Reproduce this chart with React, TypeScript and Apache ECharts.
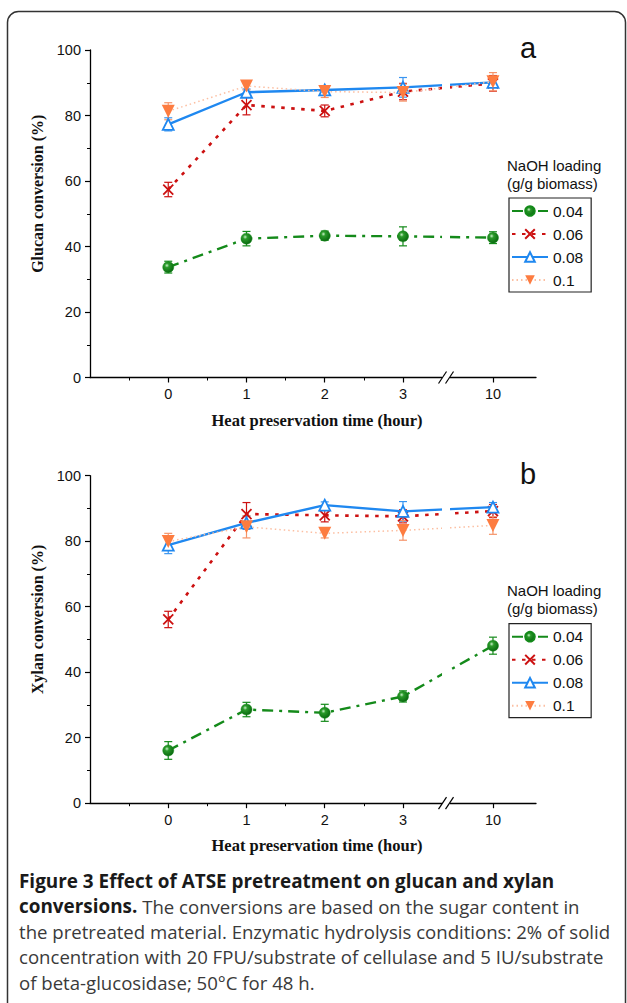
import React, { useEffect, useRef } from "react";
import * as echarts from "echarts";

// ---- data ----
const hourLabels = ["0", "1", "2", "3", "10"];
// position of each time point on the broken axis (the 3 → 10 span is compressed)
const hourPositions = [0, 1, 2, 3, 4.15];
const breakPosition = 3.55;
const minorTickPositions = [-0.5, 0.5, 1.5, 2.5];
const seriesNames = ["0.04", "0.06", "0.08", "0.1"];

const glucan004 = [33.7, 42.4, 43.3, 43.1, 42.7];
const glucan004Err = [1.8, 2.2, 1.4, 2.9, 1.8];
const glucan006 = [57.4, 83.2, 81.4, 87.3, 89.8];
const glucan006Err = [2.2, 3.0, 1.8, 2.5, 2.4];
const glucan008 = [77.3, 87.1, 87.8, 88.6, 90.1];
const glucan008Err = [2.0, 1.0, 1.2, 3.0, 1.5];
const glucan01 = [81.3, 89.0, 87.3, 87.0, 90.3];
const glucan01Err = [2.6, 1.2, 1.8, 2.6, 2.8];

const xylan004 = [16.1, 28.6, 27.6, 32.6, 48.1];
const xylan004Err = [2.7, 2.2, 2.6, 1.7, 2.6];
const xylan006 = [56.1, 88.3, 87.9, 87.6, 89.2];
const xylan006Err = [2.5, 3.5, 2.0, 2.0, 2.0];
const xylan008 = [78.8, 85.6, 91.0, 89.1, 90.4];
const xylan008Err = [2.6, 2.0, 1.0, 3.0, 1.4];
const xylan01 = [79.9, 84.4, 82.4, 83.3, 84.8];
const xylan01Err = [2.5, 3.4, 1.4, 3.0, 2.7];

const yTicks = [0, 20, 40, 60, 80, 100];

// ---- styles ----
const GREEN = "#148a1a";
const RED = "#cc1111";
const BLUE = "#1f88f0";
const ORANGE = "#fd7c40";
const ORANGE_LINE = "#fcbfa2";

const sans = "'Liberation Sans', Arial, sans-serif";
const serif = "'Liberation Serif', 'Times New Roman', serif";
const captionFont = "'Open Sans', Lato, sans-serif";

type SeriesDef = {
  name: string;
  color: string;
  lineColor: string;
  errColor: string;
  lineType: any;
  lineWidth: number;
  symbol: string;
  symbolSize: number;
  itemStyle: any;
};

const greenBall = new echarts.graphic.RadialGradient(0.38, 0.35, 0.65, [
  { offset: 0, color: "#c9f0c9" },
  { offset: 0.3, color: "#2a9a2a" },
  { offset: 1, color: "#0a6a10" },
]);

const defs: SeriesDef[] = [
  {
    name: seriesNames[0],
    color: GREEN,
    lineColor: GREEN,
    errColor: GREEN,
    lineType: [11, 6, 3, 6],
    lineWidth: 2.4,
    symbol: "circle",
    symbolSize: 11,
    itemStyle: { color: greenBall, borderColor: GREEN, borderWidth: 0.5 },
  },
  {
    name: seriesNames[1],
    color: RED,
    lineColor: RED,
    errColor: RED,
    lineType: [3.5, 6.5],
    lineWidth: 2.6,
    symbol: "path://M0,0L10,10M10,0L0,10",
    symbolSize: 10,
    itemStyle: { color: RED, borderColor: RED, borderWidth: 1.8 },
  },
  {
    name: seriesNames[2],
    color: BLUE,
    lineColor: BLUE,
    errColor: "#3a95f0",
    lineType: "solid",
    lineWidth: 2.4,
    symbol: "triangle",
    symbolSize: 11,
    itemStyle: { color: "#ffffff", borderColor: BLUE, borderWidth: 1.8 },
  },
  {
    name: seriesNames[3],
    color: ORANGE,
    lineColor: ORANGE_LINE,
    errColor: "#f5946a",
    lineType: [1.5, 3],
    lineWidth: 1.5,
    symbol: "path://M0,0L10,0L5,9Z",
    symbolSize: 13,
    itemStyle: { color: ORANGE, borderColor: ORANGE, borderWidth: 0 },
  },
];

function buildSeries(
  axisIdx: number,
  values: number[][],
  errors: number[][]
): any[] {
  const out: any[] = [];
  defs.forEach((d, k) => {
    out.push({
      type: "custom",
      name: "err-" + d.name,
      xAxisIndex: axisIdx * 2,
      yAxisIndex: axisIdx,
      silent: true,
      z: 1,
      data: hourPositions.map((x, i) => [x, values[k][i], errors[k][i]]),
      encode: { x: 0, y: 1 },
      renderItem: (params: any, api: any) => {
        const x = api.value(0);
        const y = api.value(1);
        const e = api.value(2);
        const hi = api.coord([x, y + e]);
        const lo = api.coord([x, y - e]);
        const w = 4;
        const style = { stroke: d.errColor, lineWidth: 1.2 };
        return {
          type: "group",
          children: [
            { type: "line", shape: { x1: hi[0], y1: hi[1], x2: lo[0], y2: lo[1] }, style },
            { type: "line", shape: { x1: hi[0] - w, y1: hi[1], x2: hi[0] + w, y2: hi[1] }, style },
            { type: "line", shape: { x1: lo[0] - w, y1: lo[1], x2: lo[0] + w, y2: lo[1] }, style },
          ],
        };
      },
    });
  });
  defs.forEach((d, k) => {
    out.push({
      type: "line",
      name: d.name,
      xAxisIndex: axisIdx * 2,
      yAxisIndex: axisIdx,
      z: 2 + k,
      data: hourPositions.map((x, i) => [x, values[k][i]]),
      symbol: d.symbol,
      symbolSize: d.symbolSize,
      showAllSymbol: true,
      lineStyle: { color: d.lineColor, width: d.lineWidth, type: d.lineType },
      itemStyle: d.itemStyle,
      color: d.color,
    });
  });
  return out;
}

const gridTops = [50, 475.7];
const gridHeight = 327.5;
const gridLeft = 90;
const gridWidth = 446;
const yNames = ["Glucan conversion (%)", "Xylan conversion (%)"];
const panelLetters = ["a", "b"];

function xAxes(gridIndex: number): any[] {
  return [
    {
      type: "value",
      gridIndex,
      min: -1,
      max: 4.7,
      position: "bottom",
      name: "Heat preservation time (hour)",
      nameLocation: "middle",
      nameGap: 34,
      nameTextStyle: {
        fontFamily: serif,
        fontWeight: "bold",
        fontSize: 16.5,
        color: "#111",
        padding: [0, 0, 0, 8],
      },
      axisLine: { onZero: false, lineStyle: { color: "#000", width: 1.3 } },
      axisTick: {
        customValues: hourPositions,
        length: 5,
        lineStyle: { color: "#000", width: 1.2 },
      },
      axisLabel: {
        customValues: hourPositions,
        margin: 9,
        fontFamily: sans,
        fontSize: 14.5,
        color: "#111",
        formatter: (v: number) => {
          const i = hourPositions.findIndex((p) => Math.abs(p - v) < 1e-6);
          return i >= 0 ? hourLabels[i] : "";
        },
      },
      splitLine: { show: false },
    },
    {
      type: "value",
      gridIndex,
      min: -1,
      max: 4.7,
      position: "bottom",
      axisLine: { show: false, onZero: false },
      axisTick: {
        customValues: minorTickPositions,
        length: 3,
        lineStyle: { color: "#000", width: 1 },
      },
      axisLabel: { show: false },
      splitLine: { show: false },
    },
  ];
}

function yAxis(gridIndex: number): any {
  return {
    type: "value",
    gridIndex,
    min: 0,
    max: 100,
    interval: 20,
    position: "left",
    name: yNames[gridIndex],
    nameLocation: "middle",
    nameGap: 40,
    nameTextStyle: {
      fontFamily: serif,
      fontWeight: "bold",
      fontSize: 16,
      color: "#111",
      padding: [0, 0, 0, 40],
    },
    axisLine: { show: true, onZero: false, lineStyle: { color: "#000", width: 1.3 } },
    axisTick: { show: true, length: 5, lineStyle: { color: "#000", width: 1.2 } },
    minorTick: { show: true, splitNumber: 2, length: 3, lineStyle: { color: "#000", width: 1 } },
    axisLabel: {
      margin: 9,
      fontFamily: sans,
      fontSize: 14.5,
      color: "#111",
      customValues: yTicks,
    },
    splitLine: { show: false },
  };
}

function legend(gridIndex: number): any {
  return {
    orient: "vertical",
    left: 509,
    top: gridTops[gridIndex] + 148,
    data: seriesNames,
    itemWidth: 36,
    itemHeight: 12,
    itemGap: 7,
    padding: [5, 8, 4, 2],
    borderColor: "#222",
    borderWidth: 1.2,
    selectedMode: false,
    textStyle: { fontFamily: sans, fontSize: 15.5, color: "#111" },
  };
}

const captionLines = [
  "{b|Figure 3 Effect of ATSE pretreatment on glucan and xylan}",
  "{b|conversions.}{n| The conversions are based on the sugar content in}",
  "{n|the pretreated material. Enzymatic hydrolysis conditions: 2% of solid}",
  "{n|concentration with 20 FPU/substrate of cellulase and 5 IU/substrate}",
  "{n|of beta-glucosidase; 50°C for 48 h.}",
];

export default function App() {
  const ref = useRef<HTMLDivElement>(null);
  useEffect(() => {
    if (!ref.current) return;
    const chart = echarts.init(ref.current, undefined, { renderer: "svg" });
    const option: any = {
      animation: false,
      backgroundColor: "#ffffff",
      grid: gridTops.map((t) => ({
        left: gridLeft,
        top: t,
        width: gridWidth,
        height: gridHeight,
        containLabel: false,
      })),
      xAxis: [...xAxes(0), ...xAxes(1)],
      yAxis: [yAxis(0), yAxis(1)],
      legend: [legend(0), legend(1)],
      series: [
        ...buildSeries(
          0,
          [glucan004, glucan006, glucan008, glucan01],
          [glucan004Err, glucan006Err, glucan008Err, glucan01Err]
        ),
        ...buildSeries(
          1,
          [xylan004, xylan006, xylan008, xylan01],
          [xylan004Err, xylan006Err, xylan008Err, xylan01Err]
        ),
      ],
    };
    chart.setOption(option);

    const graphics: any[] = [
      {
        type: "rect",
        z: 200,
        shape: { x: 7.5, y: 11.5, width: 618, height: 1030, r: 11 },
        style: { fill: "none", stroke: "#333", lineWidth: 1.5 },
      },
      {
        type: "text",
        z: 200,
        x: 19,
        y: 868,
        style: {
          text: captionLines.join("\n"),
          rich: {
            b: { fontFamily: captionFont, fontWeight: "bold", fontSize: 18.9, lineHeight: 25.4, fill: "#1a1a1a" },
            n: { fontFamily: captionFont, fontSize: 18.6, lineHeight: 25.4, fill: "#3a3a3a" },
          },
        },
      },
    ];
    [0, 1].forEach((g) => {
      const top = gridTops[g];
      graphics.push({
        type: "text",
        z: 200,
        x: 520,
        y: top - 2,
        style: { text: panelLetters[g], fontFamily: sans, fontSize: 29, fill: "#111", textVerticalAlign: "middle" },
      });
      graphics.push({
        type: "text",
        z: 200,
        x: 507,
        y: top + 106,
        style: {
          text: "NaOH loading\n(g/g biomass)",
          fontFamily: sans,
          fontSize: 15,
          lineHeight: 18,
          fill: "#111",
        },
      });
      const bx = chart.convertToPixel({ xAxisIndex: g * 2 }, breakPosition) as number;
      const by = chart.convertToPixel({ yAxisIndex: g }, 0) as number;
      const byTop = chart.convertToPixel({ yAxisIndex: g }, 100) as number;
      graphics.push({
        type: "rect",
        z: 150,
        shape: { x: bx - 4, y: byTop, width: 8, height: by - byTop + 3 },
        style: { fill: "#ffffff" },
      });
      [-3.5, 3.5].forEach((dx) => {
        graphics.push({
          type: "line",
          z: 160,
          shape: { x1: bx + dx - 4, y1: by + 6, x2: bx + dx + 4, y2: by - 6 },
          style: { stroke: "#000", lineWidth: 1.2 },
        });
      });
    });
    chart.setOption({ graphic: { elements: graphics } });
    return () => chart.dispose();
  }, []);
  return (
    <div
      ref={ref}
      style={{ position: "absolute", left: 0, top: 0, width: 627, height: 1003 }}
    />
  );
}
